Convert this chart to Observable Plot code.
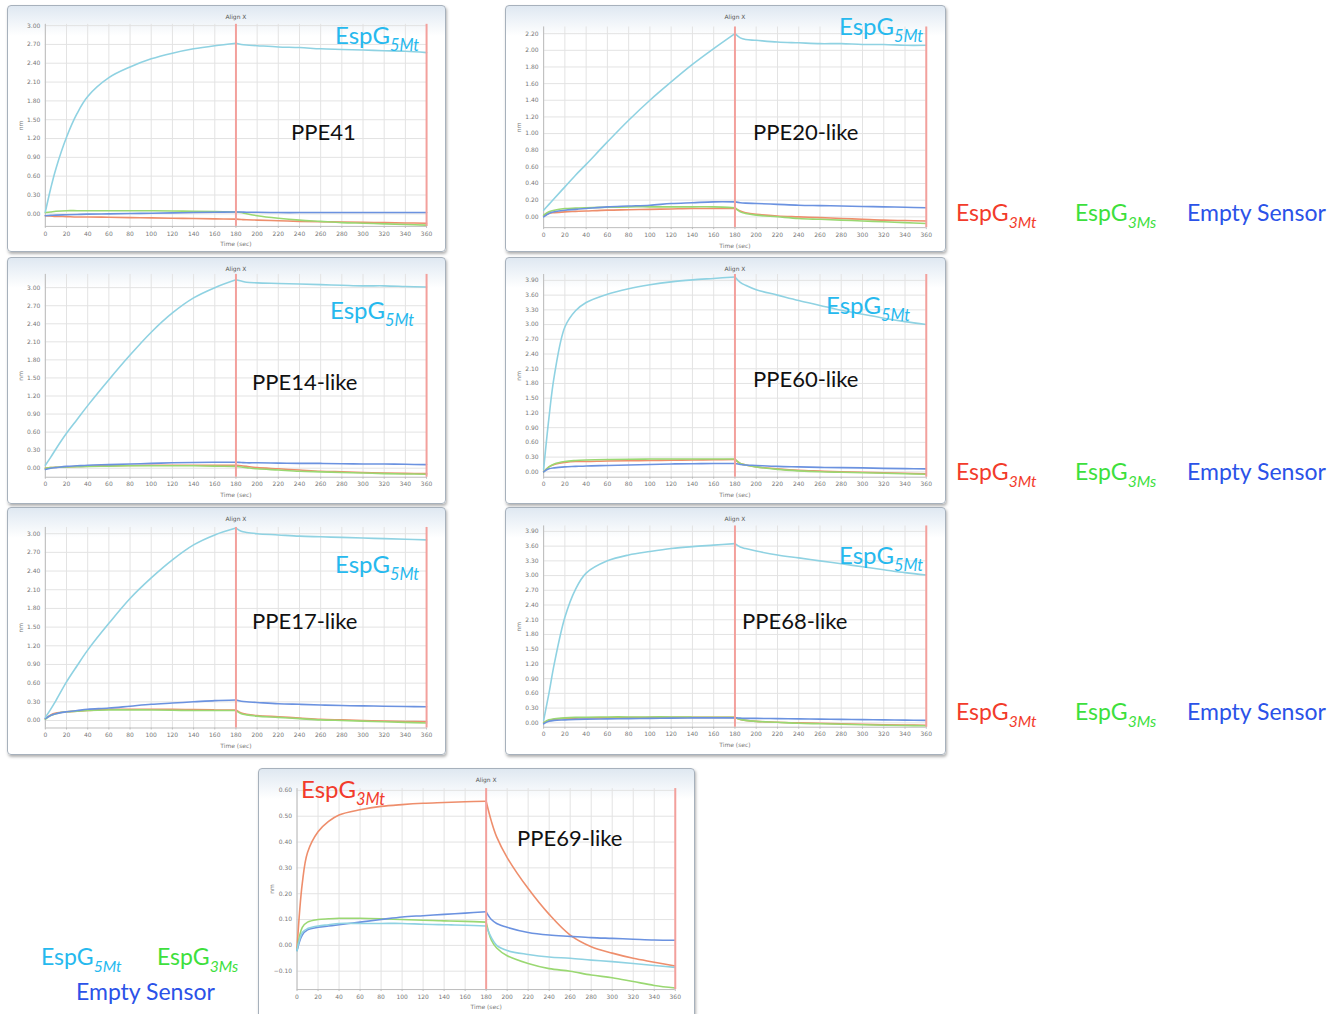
<!DOCTYPE html>
<html><head><meta charset="utf-8">
<script src="https://cdn.jsdelivr.net/npm/d3@7"></script>
<script src="https://cdn.jsdelivr.net/npm/@observablehq/plot@0.6"></script>
<style>
body{margin:0;width:1342px;height:1014px;overflow:hidden;background:#fff;position:relative;font-family:Lato,"Noto Sans",sans-serif}
.frame{position:absolute;box-sizing:border-box;border:1px solid #a7b1bc;border-radius:4px;background:linear-gradient(#dfe8f1 0px,#eef3f8 14px,#ffffff 30px);box-shadow:1px 2px 3px rgba(0,0,0,0.30)}
.frame svg{position:absolute;left:-1px;top:-1px}
#overlay{position:absolute;left:0;top:0;pointer-events:none}
</style></head><body>
<div id="root"></div>
<svg id="overlay" width="1342" height="1014" xmlns="http://www.w3.org/2000/svg"></svg>
<script>
// ---------------- data ----------------
const time = [0,5,10,20,30,40,60,80,100,120,140,160,180,185,190,200,220,240,260,280,300,320,340,360];
const xTicks = [0,20,40,60,80,100,120,140,160,180,200,220,240,260,280,300,320,340,360];
const stepMarkers = [180, 360];
const seriesNames = ["EspG5Mt", "EspG3Mt", "EspG3Ms", "Empty Sensor"];
const lineColors = ["#8fd2e2", "#ee8e6c", "#9ad872", "#6b92e0"];
const labelColors = ["#26b9ee", "#f23b2b", "#3ddf3d", "#2b52e8"];

const ticks30 = [0.00,0.30,0.60,0.90,1.20,1.50,1.80,2.10,2.40,2.70,3.00];
const ticks22 = [0.00,0.20,0.40,0.60,0.80,1.00,1.20,1.40,1.60,1.80,2.00,2.20];
const ticks39 = [0.00,0.30,0.60,0.90,1.20,1.50,1.80,2.10,2.40,2.70,3.00,3.30,3.60,3.90];
const ticks06 = [-0.10,0.00,0.10,0.20,0.30,0.40,0.50,0.60];

// PPE41
const ppe41_5Mt = [0.03,0.40,0.72,1.22,1.60,1.87,2.17,2.34,2.47,2.56,2.63,2.68,2.72,2.70,2.69,2.68,2.66,2.65,2.63,2.62,2.61,2.60,2.59,2.57];
const ppe41_3Mt = [-0.03,-0.035,-0.04,-0.045,-0.05,-0.05,-0.055,-0.06,-0.065,-0.07,-0.075,-0.08,-0.085,-0.09,-0.095,-0.10,-0.11,-0.12,-0.125,-0.13,-0.135,-0.14,-0.145,-0.15];
const ppe41_3Ms = [0.02,0.03,0.04,0.05,0.05,0.05,0.05,0.05,0.05,0.045,0.04,0.035,0.03,0.02,0.0,-0.03,-0.07,-0.10,-0.12,-0.14,-0.15,-0.16,-0.17,-0.18];
const ppe41_empty = [-0.03,-0.025,-0.02,-0.015,-0.01,-0.005,0.0,0.005,0.01,0.015,0.02,0.025,0.03,0.03,0.025,0.025,0.02,0.02,0.02,0.02,0.02,0.02,0.02,0.02];

// PPE20-like
const ppe20_5Mt = [0.08,0.15,0.22,0.36,0.50,0.63,0.90,1.16,1.40,1.62,1.83,2.02,2.20,2.15,2.13,2.12,2.10,2.09,2.08,2.08,2.07,2.07,2.06,2.06];
const ppe20_3Mt = [0.01,0.04,0.05,0.06,0.065,0.07,0.08,0.085,0.09,0.095,0.10,0.10,0.10,0.07,0.05,0.03,0.01,0.0,-0.01,-0.02,-0.03,-0.04,-0.045,-0.05];
const ppe20_3Ms = [0.02,0.06,0.08,0.10,0.105,0.11,0.115,0.12,0.12,0.12,0.12,0.12,0.11,0.06,0.04,0.02,0.0,-0.02,-0.03,-0.04,-0.05,-0.06,-0.07,-0.08];
const ppe20_empty = [0.0,0.04,0.06,0.08,0.09,0.10,0.12,0.13,0.14,0.16,0.17,0.18,0.18,0.17,0.165,0.16,0.15,0.14,0.135,0.13,0.125,0.12,0.115,0.11];

// PPE14-like
const ppe14_5Mt = [0.05,0.18,0.32,0.58,0.81,1.04,1.47,1.88,2.26,2.58,2.83,3.00,3.13,3.11,3.09,3.08,3.07,3.06,3.05,3.04,3.03,3.03,3.02,3.01];
const ppe14_3Mt = [0.0,0.01,0.015,0.02,0.03,0.035,0.04,0.045,0.05,0.05,0.05,0.05,0.05,0.04,0.03,0.01,-0.01,-0.03,-0.05,-0.06,-0.07,-0.08,-0.085,-0.09];
const ppe14_3Ms = [0.0,0.01,0.015,0.02,0.025,0.03,0.035,0.04,0.04,0.04,0.04,0.035,0.03,0.02,0.01,-0.01,-0.03,-0.05,-0.06,-0.07,-0.08,-0.09,-0.095,-0.10];
const ppe14_empty = [-0.02,0.0,0.01,0.03,0.04,0.05,0.06,0.07,0.08,0.09,0.095,0.10,0.10,0.095,0.09,0.09,0.085,0.08,0.08,0.075,0.07,0.07,0.065,0.06];

// PPE60-like
const ppe60_5Mt = [0.05,1.10,1.95,2.95,3.28,3.45,3.62,3.73,3.81,3.87,3.91,3.94,3.97,3.86,3.80,3.71,3.60,3.49,3.39,3.29,3.21,3.13,3.06,3.00];
const ppe60_3Mt = [0.0,0.10,0.15,0.19,0.21,0.21,0.22,0.225,0.23,0.235,0.24,0.245,0.25,0.17,0.14,0.10,0.06,0.03,0.015,0.0,-0.01,-0.02,-0.03,-0.04];
const ppe60_3Ms = [0.0,0.10,0.16,0.21,0.23,0.24,0.25,0.255,0.26,0.26,0.26,0.26,0.26,0.17,0.14,0.10,0.05,0.02,0.0,-0.01,-0.02,-0.03,-0.04,-0.05];
const ppe60_empty = [0.0,0.06,0.08,0.10,0.11,0.12,0.13,0.14,0.15,0.16,0.165,0.17,0.17,0.15,0.14,0.13,0.11,0.10,0.09,0.085,0.08,0.07,0.065,0.06];

// PPE17-like
const ppe17_5Mt = [0.05,0.18,0.32,0.62,0.88,1.13,1.56,1.96,2.29,2.58,2.82,2.98,3.09,3.04,3.02,3.00,2.98,2.96,2.95,2.94,2.93,2.92,2.91,2.90];
const ppe17_3Mt = [0.03,0.09,0.12,0.14,0.15,0.16,0.18,0.18,0.18,0.18,0.175,0.17,0.17,0.12,0.10,0.08,0.06,0.04,0.02,0.01,0.0,-0.01,-0.015,-0.02];
const ppe17_3Ms = [0.02,0.08,0.11,0.14,0.15,0.16,0.17,0.17,0.17,0.165,0.16,0.16,0.16,0.11,0.09,0.07,0.05,0.03,0.01,0.0,-0.01,-0.02,-0.03,-0.04];
const ppe17_empty = [0.03,0.08,0.11,0.14,0.16,0.18,0.20,0.23,0.26,0.28,0.30,0.32,0.33,0.31,0.30,0.29,0.27,0.26,0.25,0.24,0.235,0.23,0.225,0.22];

// PPE68-like
const ppe68_5Mt = [0.05,0.60,1.20,2.15,2.72,3.05,3.30,3.42,3.49,3.55,3.59,3.62,3.65,3.58,3.55,3.50,3.42,3.36,3.30,3.24,3.18,3.12,3.06,3.01];
const ppe68_3Mt = [0.0,0.05,0.07,0.09,0.095,0.10,0.10,0.105,0.11,0.11,0.11,0.11,0.11,0.07,0.05,0.03,0.01,0.0,-0.01,-0.02,-0.03,-0.04,-0.045,-0.05];
const ppe68_3Ms = [0.0,0.06,0.08,0.10,0.11,0.115,0.12,0.12,0.12,0.12,0.115,0.115,0.11,0.07,0.05,0.03,0.01,-0.01,-0.02,-0.03,-0.04,-0.05,-0.055,-0.06];
const ppe68_empty = [-0.02,0.03,0.05,0.06,0.07,0.075,0.08,0.085,0.09,0.095,0.10,0.10,0.10,0.095,0.09,0.09,0.085,0.08,0.075,0.07,0.065,0.06,0.055,0.05];

// PPE69-like
const ppe69_5Mt = [-0.02,0.05,0.065,0.075,0.08,0.085,0.085,0.085,0.085,0.082,0.08,0.078,0.075,0.03,0.0,-0.02,-0.035,-0.045,-0.05,-0.057,-0.063,-0.07,-0.078,-0.085];
const ppe69_3Mt = [-0.01,0.24,0.36,0.44,0.48,0.505,0.525,0.538,0.545,0.55,0.553,0.556,0.558,0.48,0.42,0.34,0.22,0.12,0.04,-0.005,-0.03,-0.05,-0.065,-0.08];
const ppe69_3Ms = [-0.02,0.07,0.09,0.10,0.103,0.105,0.105,0.103,0.10,0.097,0.095,0.093,0.09,0.02,-0.01,-0.04,-0.07,-0.09,-0.10,-0.115,-0.125,-0.14,-0.155,-0.165];
const ppe69_empty = [-0.02,0.04,0.06,0.07,0.075,0.08,0.09,0.10,0.11,0.115,0.12,0.125,0.13,0.10,0.085,0.07,0.05,0.04,0.035,0.03,0.027,0.024,0.021,0.02];

// ---------------- layout ----------------
const panels = [
  {name:"PPE41", box:[7,5,439,247], xpx:[45,428], cal:[0,214.3,3,25.2], domain:[-0.2,3.02], ticks:ticks30,
   series:[ppe41_5Mt,ppe41_3Mt,ppe41_3Ms,ppe41_empty], label:[291,140], tag:{x:335,y:44,i:0}},
  {name:"PPE20-like", box:[505,5,441,247], xpx:[543.3,927.7], cal:[0,217.3,2.2,33.3], domain:[-0.13,2.28], ticks:ticks22,
   series:[ppe20_5Mt,ppe20_3Mt,ppe20_3Ms,ppe20_empty], label:[753,140], tag:{x:839,y:35,i:0}},
  {name:"PPE14-like", box:[7,257,439,247], xpx:[45,428], cal:[0,468.7,3,287.3], domain:[-0.15,3.22], ticks:ticks30,
   series:[ppe14_5Mt,ppe14_3Mt,ppe14_3Ms,ppe14_empty], label:[252,390], tag:{x:330,y:319,i:0}},
  {name:"PPE60-like", box:[505,257,441,247], xpx:[543.3,927.7], cal:[0,472.3,3.9,280], domain:[-0.11,4.02], ticks:ticks39,
   series:[ppe60_5Mt,ppe60_3Mt,ppe60_3Ms,ppe60_empty], label:[753,387], tag:{x:826,y:314,i:0}},
  {name:"PPE17-like", box:[7,507,439,248], xpx:[45,428], cal:[0,721,3,533.3], domain:[-0.12,3.10], ticks:ticks30,
   series:[ppe17_5Mt,ppe17_3Mt,ppe17_3Ms,ppe17_empty], label:[252,629], tag:{x:335,y:573,i:0}},
  {name:"PPE68-like", box:[505,507,441,248], xpx:[543.3,927.7], cal:[0,723.3,3.9,531], domain:[-0.09,4.01], ticks:ticks39,
   series:[ppe68_5Mt,ppe68_3Mt,ppe68_3Ms,ppe68_empty], label:[742,629], tag:{x:839,y:564,i:0}},
  {name:"PPE69-like", box:[258,768,437,262], xpx:[296.7,676.7], cal:[0,945.7,0.6,790], domain:[-0.171,0.607], ticks:ticks06,
   series:[ppe69_5Mt,ppe69_3Mt,ppe69_3Ms,ppe69_empty], label:[517,846], tag:{x:301,y:798,i:1}}
];

const legendRows = [{y:221}, {y:480}, {y:720}];

const root = document.getElementById("root");
const fmt = d3.format(".2f");
const switchIndex = time.indexOf(180);

for (const p of panels) {
  const [L, T, W, H] = p.box;
  const [x0, x1] = p.xpx;
  const [v0, px0, v1, px1] = p.cal;
  const k = (px1 - px0) / (v1 - v0);
  const yTop = px0 + (p.domain[1] - v0) * k;
  const yBot = px0 + (p.domain[0] - v0) * k;
  const data = [];
  const order = [1, 2, 3, 0]; // draw the 5Mt trace on top
  for (const si of order) {
    const vals = p.series[si];
    time.forEach((t, i) => {
      // association phase (0–180 s) and dissociation phase (180–360 s) are separate segments
      if (i <= switchIndex) data.push({t, v: vals[i], key: seriesNames[si], seg: seriesNames[si] + "-a"});
      if (i >= switchIndex) data.push({t, v: vals[i], key: seriesNames[si], seg: seriesNames[si] + "-d"});
    });
  }
  const mt = yTop - T;
  const chart = Plot.plot({
    width: W, height: H,
    marginLeft: x0 - L, marginRight: L + W - x1,
    marginTop: mt, marginBottom: T + H - yBot,
    style: {background: "transparent", fontSize: "6px", fontFamily: "'DejaVu Sans', sans-serif", color: "#777", overflow: "visible"},
    x: {domain: [0, 360]},
    y: {domain: p.domain},
    color: {domain: seriesNames, range: lineColors},
    marks: [
      Plot.gridX(xTicks, {stroke: "#e3e3e3", strokeOpacity: 1}),
      Plot.gridY(p.ticks, {stroke: "#e3e3e3", strokeOpacity: 1}),
      Plot.ruleX([0], {stroke: "#bcbcbc"}),
      Plot.ruleY([p.domain[0]], {stroke: "#bcbcbc"}),
      Plot.axisX(xTicks, {tickSize: 2, tickPadding: 3, stroke: "#bbb", label: "Time (sec)", labelAnchor: "center", labelArrow: "none", labelOffset: 20}),
      Plot.axisY(p.ticks, {tickSize: 0, tickPadding: 5, tickFormat: fmt, label: "nm", labelAnchor: "center", labelArrow: "none", labelOffset: 27}),
      Plot.lineY(data, {x: "t", y: "v", z: "seg", stroke: "key", strokeWidth: 1.6, curve: "catmull-rom"}),
      Plot.ruleX(stepMarkers, {stroke: "#f3a09c", strokeWidth: 2}),
      Plot.text(["Align X"], {frameAnchor: "top", dy: 9 - mt, fontSize: 6, fill: "#555"})
    ]
  });
  const frame = document.createElement("div");
  frame.className = "frame";
  Object.assign(frame.style, {left: L + "px", top: T + "px", width: W + "px", height: H + "px"});
  frame.appendChild(chart);
  root.appendChild(frame);
}

// ---------------- text overlay ----------------
const ov = d3.select("#overlay");
const FONT = "Lato, 'Noto Sans', sans-serif";
function espg(x, y, sub, color, size) {
  const t = ov.append("text").attr("x", x).attr("y", y).attr("fill", color)
    .attr("font-family", FONT).attr("font-size", size);
  t.append("tspan").text("EspG");
  t.append("tspan").attr("dy", size * 0.3).attr("font-size", size * 0.68).attr("font-style", "italic").text(sub);
  return t;
}
function plain(x, y, txt, color, size) {
  ov.append("text").attr("x", x).attr("y", y).attr("fill", color)
    .attr("font-family", FONT).attr("font-size", size).text(txt);
}
const subs = ["5Mt", "3Mt", "3Ms"];
for (const p of panels) {
  espg(p.tag.x, p.tag.y, subs[p.tag.i], labelColors[p.tag.i], 24);
  plain(p.label[0], p.label[1], p.name, "#111", 22);
}
for (const r of legendRows) {
  espg(956, r.y, "3Mt", labelColors[1], 23);
  espg(1075, r.y, "3Ms", labelColors[2], 23);
  plain(1187, r.y, "Empty Sensor", labelColors[3], 23);
}
espg(41, 965, "5Mt", labelColors[0], 23);
espg(157, 965, "3Ms", labelColors[2], 23);
plain(76, 1000, "Empty Sensor", labelColors[3], 23);
</script>
</body></html>
